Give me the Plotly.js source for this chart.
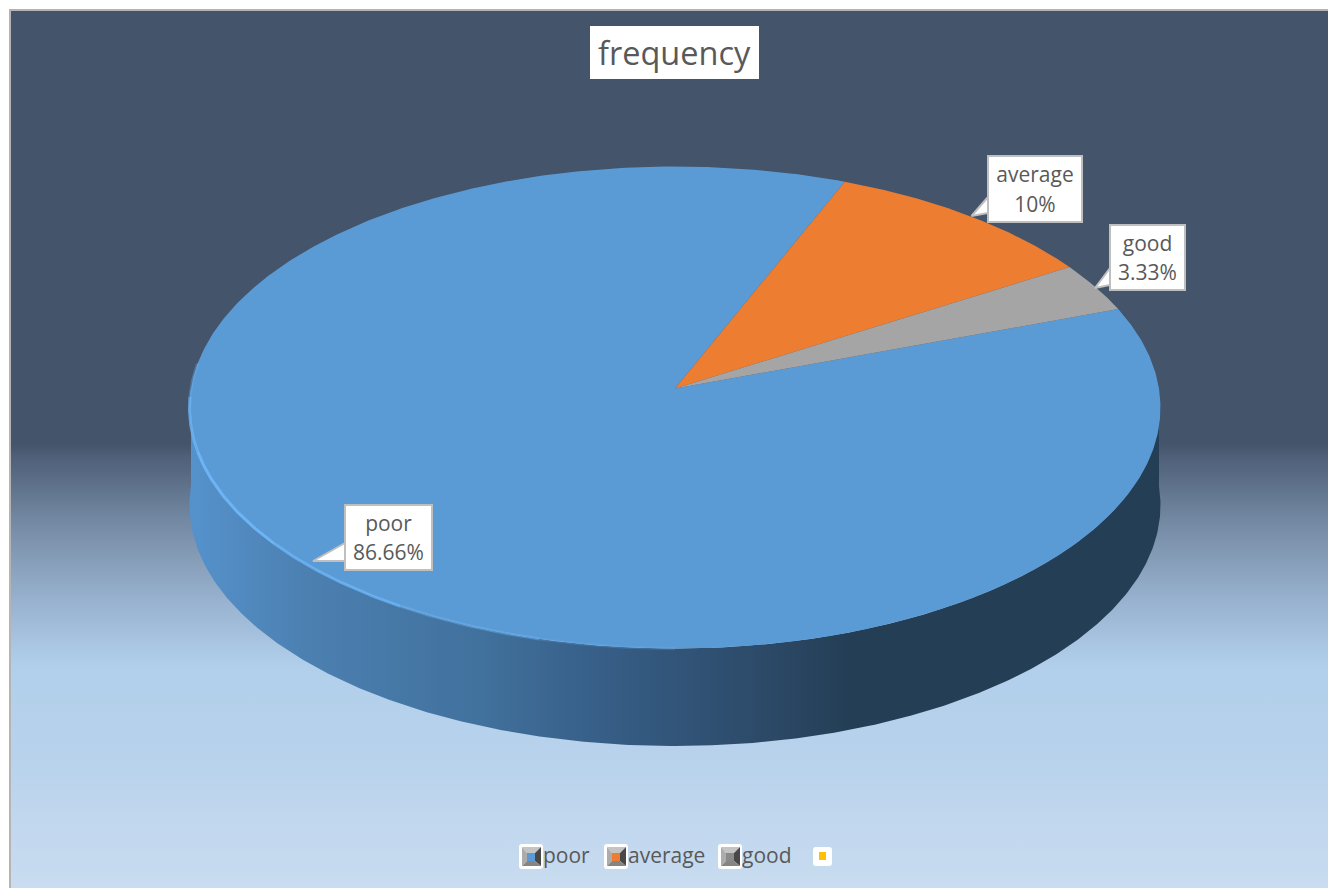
<!DOCTYPE html>
<html>
<head>
<meta charset="utf-8">
<title>frequency</title>
<script src="https://cdn.plot.ly/plotly-3.0.1.min.js"></script>
<style>html,body{margin:0;padding:0;background:#fff}#chart{width:1328px;height:888px}</style>
</head>
<body>
<div id="chart"></div>
<script>
// Survey rating shares, in percent
const categories = ['poor', 'average', 'good'];
const shares = [86.66, 10, 3.33];
const sliceColors = ['#5b9bd5', '#ed7d31', '#a5a5a5'];
const iconBevels = ['#5b9bd5', '#ed7d31', '#8a8a8a'];
const chartTitle = 'frequency';

const FONT = '"Open Sans", "Noto Sans", sans-serif';
const TEXT = '#595959';
const W = 1328, H = 888;

// Perspective disc: apex on screen, half axes and foreshortening factor
const APEX_X = 675, APEX_Y = 388.5, RX = 484, RY = 239.5, PERSP = 0.0788;
const DEPTH = 97.5;
const START_DEG = 70.1;   // first slice begins here, clockwise from twelve o'clock

function project(deg, radius = 1, drop = 0) {
  const t = deg * Math.PI / 180;
  const u = radius * Math.sin(t), v = radius * Math.cos(t);
  const k = 1 + PERSP * v;
  return [APEX_X + RX * u / k, APEX_Y - RY * v / k + drop];
}

function arc(from, to, drop = 0) {
  const n = Math.max(2, Math.ceil(Math.abs(to - from) * 2));
  const pts = [];
  for (let i = 0; i <= n; i++) pts.push(project(from + (to - from) * i / n, 1, drop));
  return pts;
}

const xs = pts => pts.map(p => p[0]);
const ys = pts => pts.map(p => p[1]);
const base = {type: 'scatter', showlegend: false, hoverinfo: 'skip'};

function polygon(pts, extra) {
  return Object.assign({}, base, {
    x: xs(pts).concat(pts[0][0]), y: ys(pts).concat(pts[0][1]),
    mode: 'lines', fill: 'toself', line: {width: 0}
  }, extra);
}

const traces = [];

// Panel with its vertical background gradient and thin frame
traces.push(polygon([[10, 10], [W, 10], [W, H], [10, H]], {
  fillgradient: {
    type: 'vertical', start: 0, stop: H,
    colorscale: [[0, '#44546a'], [0.5, '#44546a'], [0.515, '#4f6078'], [0.6, '#7a90aa'],
                 [0.68, '#99b3d0'], [0.75, '#b1cfeb'], [0.85, '#b8d2ec'], [1, '#c9dcf0']]
  }
}));
traces.push(Object.assign({}, base, {
  x: [10, 10, W], y: [H, 10, 10], mode: 'lines', line: {color: '#b4b4b4', width: 2}
}));

// Side wall of the disc: outer edge at depth, back along the top rim
const wallBottom = arc(90, 270, DEPTH);
const wallTop = arc(270, 90, 0);
traces.push(polygon(wallBottom.concat(wallTop), {
  fillgradient: {
    type: 'horizontal', start: 189, stop: 1159,
    colorscale: [[0, '#5592cc'], [0.12, '#4c80b1'], [0.3, '#41719d'], [0.42, '#375f88'],
                 [0.58, '#2d4b6a'], [0.68, '#243e56'], [1, '#233e55']]
  }
}));

// Top face slices, sized from the shares
const total = shares.reduce((a, b) => a + b, 0);
let angle = START_DEG;
categories.forEach((name, i) => {
  const sweep = 360 * shares[i] / total;
  const pts = [[APEX_X, APEX_Y]].concat(arc(angle, angle + sweep));
  traces.push(polygon(pts, {name, fillcolor: sliceColors[i]}));
  angle += sweep;
});

// Bright bevel on the front-left rim, fading towards the front
const rimStops = [[276, 268, 0.35], [268, 255, 0.8], [255, 232, 1], [232, 212, 0.8], [212, 195, 0.45], [195, 180, 0.2]];
rimStops.forEach(([a, b, o]) => {
  const pts = arc(a, b);
  traces.push(Object.assign({}, base, {
    x: xs(pts), y: ys(pts), mode: 'lines', opacity: o,
    line: {color: '#6db4f5', width: 3}
  }));
});

// Callout pointers and label boxes
const callouts = [
  {box: [987, 155, 1083, 223], tip: [971.5, 216], y0: 197, y1: 213},
  {box: [1109, 224, 1186, 291], tip: [1095, 288], y0: 268, y1: 285},
  {box: [344, 504, 433, 571], tip: [313, 561], y0: 543, y1: 561}
];
const order = [1, 2, 0];
callouts.forEach(c => {
  traces.push(polygon([[c.box[0] + 1, c.y0], c.tip, [c.box[0] + 1, c.y1]], {
    fillcolor: '#ffffff', line: {color: '#bfbfbf', width: 2}
  }));
});

const annotations = [];
function boxLabel(text, x0, y0, x1, y1, size, border) {
  annotations.push({
    xref: 'x', yref: 'y', x: (x0 + x1) / 2, y: (y0 + y1) / 2, xanchor: 'center', yanchor: 'middle',
    text, showarrow: false, align: 'center', valign: 'middle',
    width: x1 - x0 - (border ? 4 : 0), height: y1 - y0 - (border ? 4 : 0), borderpad: 0,
    bgcolor: '#ffffff', bordercolor: border ? '#bfbfbf' : 'rgba(0,0,0,0)', borderwidth: border ? 2 : 0,
    font: {family: FONT, size, color: TEXT}
  });
}
boxLabel(chartTitle, 590, 26, 759, 79, 32.5, false);
order.forEach((cat, i) => {
  const b = callouts[i].box;
  // The larger base size opens up the line spacing; the glyphs stay at 21px
  const body = `<span style="font-size:21px">${categories[cat]}</span><br><span style="font-size:21px">${shares[cat]}%</span>`;
  boxLabel(body, b[0], b[1], b[2], b[3], 23, true);
});

// Legend row: bevelled swatches and their names
const shapes = [];
function rect(x0, y0, x1, y1, color, radius) {
  const r = radius || 0;
  const path = r
    ? `M${x0 + r},${y0} L${x1 - r},${y0} Q${x1},${y0} ${x1},${y0 + r} L${x1},${y1 - r} Q${x1},${y1} ${x1 - r},${y1} L${x0 + r},${y1} Q${x0},${y1} ${x0},${y1 - r} L${x0},${y0 + r} Q${x0},${y0} ${x0 + r},${y0} Z`
    : `M${x0},${y0} L${x1},${y0} L${x1},${y1} L${x0},${y1} Z`;
  shapes.push({type: 'path', xref: 'x', yref: 'y', path, fillcolor: color, line: {width: 0}, layer: 'above'});
}
function quad(points, color) {
  const path = 'M' + points.map(p => p.join(',')).join(' L') + ' Z';
  shapes.push({type: 'path', xref: 'x', yref: 'y', path, fillcolor: color, line: {width: 0}, layer: 'above'});
}
function legendIcon(x, color) {
  const y = 844;
  rect(x, y, x + 24, y + 25, '#ffffff', 3);
  const ox0 = x + 3, oy0 = y + 3, ox1 = x + 22, oy1 = y + 22;
  const ix0 = x + 8, iy0 = y + 9, ix1 = x + 16, iy1 = y + 17;
  quad([[ox0, oy0], [ox1, oy0], [ix1, iy0], [ix0, iy0]], '#c4c4c4');
  quad([[ox0, oy0], [ix0, iy0], [ix0, iy1], [ox0, oy1]], '#acacac');
  quad([[ox1, oy0], [ox1, oy1], [ix1, iy1], [ix1, iy0]], '#484848');
  quad([[ox0, oy1], [ix0, iy1], [ix1, iy1], [ox1, oy1]], '#858585');
  rect(ix0, iy0, ix1, iy1, color);
}
const legendX = [519, 604, 718];
categories.forEach((name, i) => {
  legendIcon(legendX[i], iconBevels[i]);
  annotations.push({
    xref: 'x', yref: 'y', x: legendX[i] + 22.5, y: 855, xanchor: 'left', yanchor: 'middle',
    text: name, showarrow: false, borderpad: 0,
    font: {family: FONT, size: 21, color: TEXT}
  });
});
// Fourth, unnamed legend key
rect(813, 847, 832, 866, '#ffffff', 3);
rect(819, 852, 826, 860, '#ffc000');

const layout = {
  width: W, height: H,
  margin: {l: 0, r: 0, t: 0, b: 0, pad: 0},
  paper_bgcolor: '#ffffff', plot_bgcolor: '#ffffff',
  showlegend: false, hovermode: false,
  xaxis: {range: [0, W], visible: false, fixedrange: true},
  yaxis: {range: [H, 0], visible: false, fixedrange: true},
  annotations, shapes
};

Plotly.newPlot('chart', traces, layout, {displayModeBar: false, staticPlot: true});
</script>
</body>
</html>
